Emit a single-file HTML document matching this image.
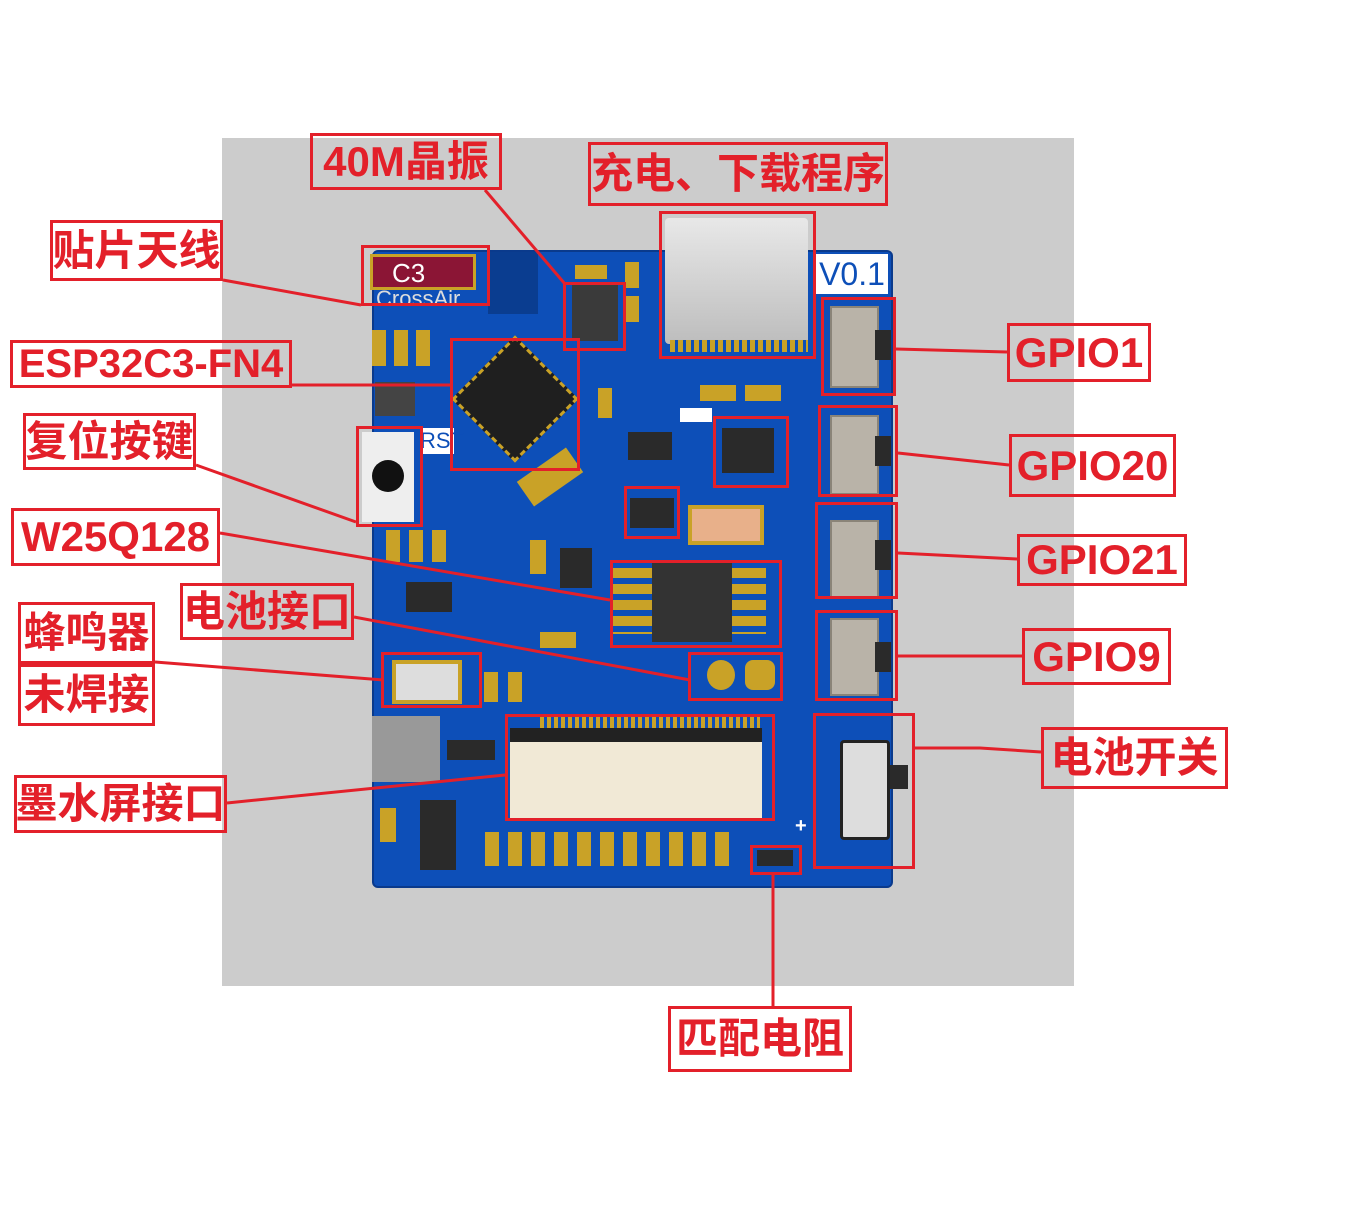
<!DOCTYPE html>
<html><head><meta charset="utf-8"><style>
body{margin:0;width:1365px;height:1223px;background:#fff;position:relative;overflow:hidden;font-family:"Liberation Sans","Noto Sans CJK SC",sans-serif}
.a{position:absolute;box-sizing:border-box}
.lb{position:absolute;box-sizing:border-box;border:3px solid #e3202a;color:#e3202a;font-weight:bold;font-size:42px;line-height:1;display:flex;align-items:center;justify-content:center;white-space:nowrap;background:transparent}
.rb{position:absolute;box-sizing:border-box;border:3px solid #e3202a}
.pad{position:absolute;background:#c9a227}
.chip{position:absolute;background:#2a2a2a}
.sw{position:absolute;background:#b9b3a8;border:2px solid #8a8478}
</style></head><body>
<div class="a" style="left:222px;top:138px;width:852px;height:848px;background:#cccccc"></div>
<div class="a" style="left:372px;top:250px;width:521px;height:638px;background:#0d4fb8;border-radius:6px;border:2px solid #0a3a8c"></div>
<div class="a" style="left:488px;top:252px;width:50px;height:62px;background:#0a3d90"></div>
<div class="a" style="left:370px;top:254px;width:106px;height:36px;background:#8b1535;border:3px solid #c9a227"></div>
<div class="a" style="left:392px;top:258px;color:#fff;font-size:26px">C3</div>
<div class="a" style="left:376px;top:286px;color:#ddd;font-size:22px">CrossAir</div>
<div class="chip" style="left:572px;top:285px;width:46px;height:56px;background:#3a3a3a"></div>
<div class="pad" style="left:575px;top:265px;width:32px;height:14px"></div>
<div class="pad" style="left:625px;top:262px;width:14px;height:26px"></div>
<div class="pad" style="left:625px;top:296px;width:14px;height:26px"></div>
<div class="a" style="left:665px;top:218px;width:143px;height:126px;background:linear-gradient(#e8e8e8,#bdbdbd);border-radius:4px"></div>
<div class="a" style="left:670px;top:340px;width:138px;height:12px;background:repeating-linear-gradient(90deg,#c9a227 0 5px,#0d4fb8 5px 8px)"></div>
<div class="a" style="left:816px;top:254px;width:72px;height:40px;background:#fff;color:#0d4fb8;font-size:32px;line-height:40px;text-align:center">V0.1</div>
<div class="a" style="left:470px;top:354px;width:90px;height:90px;background:#1f1f1f;transform:rotate(45deg);border:3px dashed #c9a227"></div>
<div class="a" style="left:362px;top:432px;width:52px;height:90px;background:#eee"></div>
<div class="a" style="left:372px;top:460px;width:32px;height:32px;background:#111;border-radius:50%"></div>
<div class="a" style="left:420px;top:428px;width:34px;height:26px;background:#fff;color:#0d4fb8;font-size:22px">RST</div>
<div class="pad" style="left:372px;top:330px;width:14px;height:36px"></div>
<div class="pad" style="left:394px;top:330px;width:14px;height:36px"></div>
<div class="pad" style="left:416px;top:330px;width:14px;height:36px"></div>
<div class="chip" style="left:375px;top:382px;width:40px;height:34px;background:#444"></div>
<div class="pad" style="left:386px;top:530px;width:14px;height:32px"></div>
<div class="pad" style="left:409px;top:530px;width:14px;height:32px"></div>
<div class="pad" style="left:432px;top:530px;width:14px;height:32px"></div>
<div class="chip" style="left:406px;top:582px;width:46px;height:30px"></div>
<div class="chip" style="left:628px;top:432px;width:44px;height:28px"></div>
<div class="chip" style="left:722px;top:428px;width:52px;height:45px"></div>
<div class="pad" style="left:700px;top:385px;width:36px;height:16px"></div>
<div class="pad" style="left:745px;top:385px;width:36px;height:16px"></div>
<div class="pad" style="left:598px;top:388px;width:14px;height:30px"></div>
<div class="a" style="left:680px;top:408px;width:32px;height:14px;background:#fff"></div>
<div class="chip" style="left:630px;top:498px;width:44px;height:30px"></div>
<div class="a" style="left:688px;top:505px;width:76px;height:40px;background:#e8b08a;border:4px solid #c9a227"></div>
<div class="pad" style="left:520px;top:462px;width:60px;height:30px;transform:rotate(-35deg)"></div>
<div class="chip" style="left:560px;top:548px;width:32px;height:40px"></div>
<div class="pad" style="left:530px;top:540px;width:16px;height:34px"></div>
<div class="pad" style="left:540px;top:632px;width:36px;height:16px"></div>
<div class="chip" style="left:652px;top:562px;width:80px;height:80px;background:#333"></div>
<div class="pad" style="left:612px;top:568px;width:40px;height:66px;background:repeating-linear-gradient(#c9a227 0 10px,#0d4fb8 10px 16px)"></div>
<div class="pad" style="left:732px;top:568px;width:34px;height:66px;background:repeating-linear-gradient(#c9a227 0 10px,#0d4fb8 10px 16px)"></div>
<div class="a" style="left:707px;top:660px;width:28px;height:30px;background:#c9a227;border-radius:50%"></div>
<div class="a" style="left:745px;top:660px;width:30px;height:30px;background:#c9a227;border-radius:8px"></div>
<div class="a" style="left:392px;top:660px;width:70px;height:44px;background:#ddd;border:4px solid #c9a227"></div>
<div class="pad" style="left:484px;top:672px;width:14px;height:30px"></div>
<div class="pad" style="left:508px;top:672px;width:14px;height:30px"></div>
<div class="a" style="left:372px;top:716px;width:68px;height:66px;background:#999"></div>
<div class="chip" style="left:447px;top:740px;width:48px;height:20px"></div>
<div class="a" style="left:510px;top:728px;width:252px;height:90px;background:#f1e9d6;border-top:14px solid #222"></div>
<div class="a" style="left:540px;top:714px;width:220px;height:14px;background:repeating-linear-gradient(90deg,#c9a227 0 4px,#0d4fb8 4px 7px)"></div>
<div class="a" style="left:485px;top:832px;width:250px;height:34px;background:repeating-linear-gradient(90deg,#c9a227 0 14px,#0d4fb8 14px 23px)"></div>
<div class="chip" style="left:420px;top:800px;width:36px;height:70px"></div>
<div class="pad" style="left:380px;top:808px;width:16px;height:34px"></div>
<div class="sw" style="left:830px;top:306px;width:45px;height:78px"></div>
<div class="chip" style="left:875px;top:330px;width:16px;height:30px"></div>
<div class="sw" style="left:830px;top:415px;width:45px;height:76px"></div>
<div class="chip" style="left:875px;top:436px;width:16px;height:30px"></div>
<div class="sw" style="left:830px;top:520px;width:45px;height:74px"></div>
<div class="chip" style="left:875px;top:540px;width:16px;height:30px"></div>
<div class="sw" style="left:830px;top:618px;width:45px;height:74px"></div>
<div class="chip" style="left:875px;top:642px;width:16px;height:30px"></div>
<div class="a" style="left:840px;top:740px;width:50px;height:100px;background:#ddd;border:3px solid #222;border-radius:4px"></div>
<div class="chip" style="left:890px;top:765px;width:18px;height:24px"></div>
<div class="chip" style="left:757px;top:850px;width:36px;height:16px"></div>
<div class="a" style="left:795px;top:815px;color:#fff;font-size:20px;font-weight:bold">+</div>
<div class="rb" style="left:361px;top:245px;width:129px;height:61px"></div>
<div class="rb" style="left:563px;top:282px;width:63px;height:69px"></div>
<div class="rb" style="left:659px;top:211px;width:157px;height:148px"></div>
<div class="rb" style="left:450px;top:338px;width:130px;height:133px"></div>
<div class="rb" style="left:356px;top:426px;width:67px;height:101px"></div>
<div class="rb" style="left:713px;top:416px;width:76px;height:72px"></div>
<div class="rb" style="left:624px;top:486px;width:56px;height:53px"></div>
<div class="rb" style="left:610px;top:560px;width:172px;height:88px"></div>
<div class="rb" style="left:688px;top:652px;width:95px;height:49px"></div>
<div class="rb" style="left:381px;top:652px;width:101px;height:56px"></div>
<div class="rb" style="left:505px;top:714px;width:270px;height:107px"></div>
<div class="rb" style="left:821px;top:297px;width:75px;height:99px"></div>
<div class="rb" style="left:818px;top:405px;width:80px;height:92px"></div>
<div class="rb" style="left:815px;top:502px;width:83px;height:97px"></div>
<div class="rb" style="left:815px;top:610px;width:83px;height:91px"></div>
<div class="rb" style="left:813px;top:713px;width:102px;height:156px"></div>
<div class="rb" style="left:750px;top:845px;width:52px;height:30px"></div>
<svg class="a" style="left:0;top:0" width="1365" height="1223"><g stroke="#e3202a" stroke-width="3" fill="none">
<line x1="223" y1="280" x2="361" y2="305"/>
<line x1="485" y1="190" x2="565" y2="284"/>
<line x1="292" y1="385" x2="450" y2="385"/>
<line x1="196" y1="465" x2="356" y2="522"/>
<line x1="220" y1="533" x2="610" y2="600"/>
<line x1="354" y1="617" x2="690" y2="680"/>
<line x1="155" y1="662" x2="383" y2="680"/>
<line x1="227" y1="803" x2="505" y2="775"/>
<line x1="896" y1="349" x2="1007" y2="352"/>
<line x1="898" y1="453" x2="1009" y2="465"/>
<line x1="898" y1="553" x2="1017" y2="559"/>
<line x1="898" y1="656" x2="1022" y2="656"/>
<polyline points="915,748 980,748 1041,752"/>
<line x1="773" y1="875" x2="773" y2="1006"/>
</g></svg>
<div class="lb" style="left:310px;top:133px;width:192px;height:57px">40M晶振</div>
<div class="lb" style="left:588px;top:142px;width:300px;height:64px">充电、下载程序</div>
<div class="lb" style="left:50px;top:220px;width:173px;height:61px">贴片天线</div>
<div class="lb" style="left:10px;top:340px;width:282px;height:48px;font-size:40px">ESP32C3-FN4</div>
<div class="lb" style="left:23px;top:413px;width:173px;height:57px">复位按键</div>
<div class="lb" style="left:11px;top:508px;width:209px;height:58px">W25Q128</div>
<div class="lb" style="left:180px;top:583px;width:174px;height:57px">电池接口</div>
<div class="lb" style="left:18px;top:602px;width:137px;height:62px">蜂鸣器</div>
<div class="lb" style="left:18px;top:664px;width:137px;height:62px">未焊接</div>
<div class="lb" style="left:14px;top:775px;width:213px;height:58px">墨水屏接口</div>
<div class="lb" style="left:1007px;top:323px;width:144px;height:59px">GPIO1</div>
<div class="lb" style="left:1009px;top:434px;width:167px;height:63px">GPIO20</div>
<div class="lb" style="left:1017px;top:534px;width:170px;height:52px">GPIO21</div>
<div class="lb" style="left:1022px;top:628px;width:149px;height:57px">GPIO9</div>
<div class="lb" style="left:1041px;top:727px;width:187px;height:62px">电池开关</div>
<div class="lb" style="left:668px;top:1006px;width:184px;height:66px">匹配电阻</div>
</body></html>
